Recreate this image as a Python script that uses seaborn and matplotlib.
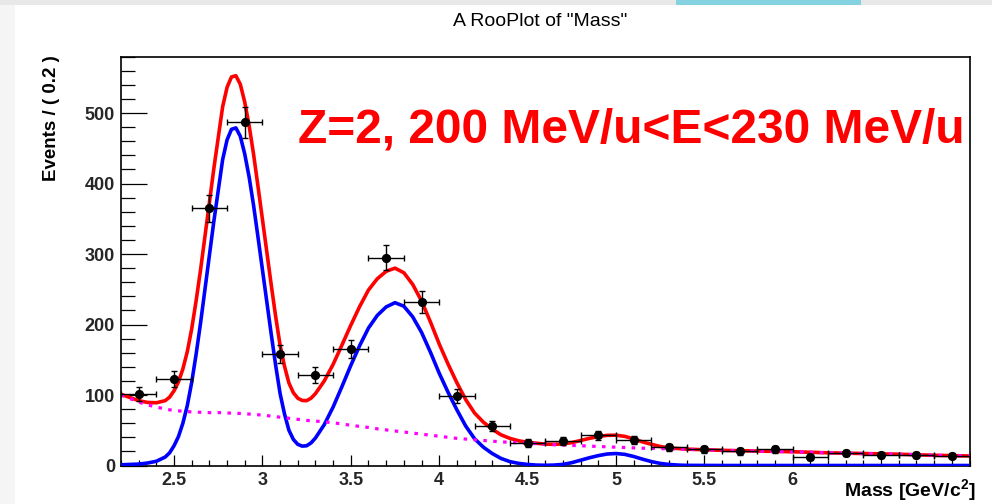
import numpy as np
import pandas as pd
import matplotlib
matplotlib.use("Agg")
import matplotlib.pyplot as plt
import seaborn as sns
from matplotlib.ticker import MultipleLocator, FixedLocator, FixedFormatter
from matplotlib.patches import Rectangle

# ---------------- data ----------------
bin_centers = [2.3, 2.5, 2.7, 2.9, 3.1, 3.3, 3.5, 3.7, 3.9, 4.1, 4.3, 4.5,
               4.7, 4.9, 5.1, 5.3, 5.5, 5.7, 5.9, 6.1, 6.3, 6.5, 6.7, 6.9]
counts = [101, 123, 365, 487, 158, 128, 165, 295, 232, 98, 56, 32,
          35, 43, 36, 26, 23, 20, 23, 12, 18, 15, 15, 14]
count_err = [10.0, 11.1, 19.1, 22.1, 12.6, 11.3, 12.8, 17.2, 15.2, 9.9, 7.5, 5.7,
             5.9, 6.6, 6.0, 5.1, 4.8, 4.5, 4.8, 3.5, 4.2, 3.9, 3.9, 3.7]
bin_half_width = [0.1] * 24

curve_x = [2.20, 2.25, 2.30, 2.35, 2.40,
           2.450, 2.475, 2.500, 2.525, 2.550, 2.575, 2.600, 2.625, 2.650, 2.675,
           2.700, 2.725, 2.750, 2.775, 2.800, 2.825, 2.850, 2.875, 2.900, 2.925,
           2.950, 2.975, 3.000, 3.025, 3.050, 3.075, 3.100, 3.125, 3.150, 3.175,
           3.200, 3.225, 3.250, 3.275, 3.300,
           3.35, 3.40, 3.45, 3.50, 3.55, 3.60, 3.65,
           3.70, 3.75, 3.80, 3.85, 3.90, 3.95, 4.00, 4.05, 4.10, 4.15,
           4.20, 4.25, 4.30, 4.35, 4.40, 4.45, 4.50, 4.55, 4.60, 4.65,
           4.70, 4.75, 4.80, 4.85, 4.90, 4.95, 5.00, 5.05, 5.10, 5.15,
           5.20, 5.25, 5.30, 5.35, 5.40, 5.60, 5.80, 6.00, 6.20, 6.40,
           6.60, 6.80, 7.00]
signal = [1, 1.5, 2, 3.5, 6,
          12, 18, 28, 41, 60, 85, 118, 158, 202, 250,
          298, 346, 390, 434, 462, 477, 479, 467, 442, 409,
          369, 324, 278, 232, 186, 142, 102, 73, 50, 37,
          30, 27.5, 28, 32, 39,
          58, 83, 112, 142, 170, 195, 213,
          225, 231, 226, 211, 189, 161, 131, 104, 79, 56,
          38, 26, 17, 10, 5.5, 3, 1.5, 0.6, 0.3, 0.6,
          1.6, 4, 7.5, 11, 14, 16.3, 17, 15.8, 12.8, 9,
          5.6, 3, 1.5, 0.6, 0.2, 0, 0, 0, 0, 0,
          0, 0, 0]
background = [100, 95, 90, 86, 83,
              80, 79, 78, 77.5, 77, 76.5, 76, 75.8, 75.5, 75.2,
              75, 75, 75, 75, 74.5, 74.3, 74, 73.8, 73.5, 73,
              72.5, 72, 71.5, 70.8, 70, 69.3, 68.5, 67.8, 67, 66.3,
              65.5, 64.8, 64, 63.5, 63,
              62, 60.5, 59, 57, 55.5, 54, 52,
              50.5, 49, 47.5, 46, 44.5, 43, 41.5, 40, 38.5, 37.5,
              36.5, 35.5, 34.5, 33.5, 33, 32, 31.5, 31, 30, 29.5,
              29, 28.5, 28, 27.5, 27, 26.5, 26, 25.5, 25, 24.5,
              24.5, 24, 23.5, 23.5, 23, 21.5, 20.5, 19.5, 18, 17,
              16, 14.5, 13.5]
total = [101, 96.5, 92, 89.5, 89,
         92, 97, 106, 118.5, 137, 161.5, 194, 233.8, 277.5, 325.2,
         373, 421, 465, 509, 536.5, 551.3, 553, 540.8, 515.5, 482,
         441.5, 396, 349.5, 302.8, 256, 211.3, 170.5, 140.8, 117, 103.3,
         95.5, 92.3, 92, 95.5, 102,
         120, 143.5, 171, 199, 225.5, 249, 265,
         275.5, 280, 273.5, 257, 233.5, 204, 172.5, 144, 117.5, 93.5,
         74.5, 61.5, 51.5, 43.5, 38.5, 35, 33, 31.6, 30.3, 30.1,
         30.6, 32.5, 35.5, 38.5, 41, 42.8, 43, 41.3, 37.8, 33.5,
         30.1, 27, 25, 24.1, 23.2, 21.5, 20.5, 19.5, 18, 17,
         16, 14.5, 13.5]

x_major = [2.5, 3.0, 3.5, 4.0, 4.5, 5.0, 5.5, 6.0, 6.5]
x_major_labels = ["2.5", "3", "3.5", "4", "4.5", "5", "5.5", "6", ""]
y_major = [0, 100, 200, 300, 400, 500]
y_major_labels = ["0", "100", "200", "300", "400", "500"]

curves = pd.DataFrame({"x": curve_x, "signal": signal,
                       "background": background, "total": total})
data = pd.DataFrame({"x": bin_centers, "n": counts})

# ---------------- style ----------------
sns.set_theme(style="white")
plt.rcParams["font.family"] = ["Liberation Sans", "DejaVu Sans"]
plt.rcParams["mathtext.fontset"] = "custom"
plt.rcParams["mathtext.rm"] = "Liberation Sans"
plt.rcParams["mathtext.bf"] = "Liberation Sans:bold"

W, H = 992, 504
fig = plt.figure(figsize=(W / 100, H / 100), dpi=100, facecolor="white")

# screenshot chrome
fig.patches.append(Rectangle((0, 0), 15 / W, 1, transform=fig.transFigure,
                             facecolor="#f5f5f5", edgecolor="none", zorder=-5))
fig.patches.append(Rectangle((0, 1 - 5 / H), 1, 5 / H, transform=fig.transFigure,
                             facecolor="#e8e8e8", edgecolor="none", zorder=-4))
fig.patches.append(Rectangle((676 / W, 1 - 5 / H), (861 - 676) / W, 5 / H,
                             transform=fig.transFigure,
                             facecolor="#84d1df", edgecolor="none", zorder=-3))

L, R, T, B = 121, 969.5, 56.7, 465.5
ax = fig.add_axes([L / W, 1 - B / H, (R - L) / W, (B - T) / H])
ax.set_facecolor("white")

sns.lineplot(data=curves, x="x", y="total", ax=ax, color="#ff0000",
             linewidth=2.6, sort=False, estimator=None, zorder=3)
sns.lineplot(data=curves, x="x", y="signal", ax=ax, color="#0000ff",
             linewidth=2.6, sort=False, estimator=None, zorder=4)
sns.lineplot(data=curves, x="x", y="background", ax=ax, color="#ff00ff",
             linewidth=2.3, sort=False, estimator=None, zorder=5)
lines = ax.get_lines()
for ln in lines[:2]:
    ln.set_solid_joinstyle("round")
    ln.set_solid_capstyle("butt")
lines[2].set_dashes([1.1, 2.0])
lines[2].set_dash_capstyle("butt")

ax.errorbar(bin_centers, counts, yerr=count_err, xerr=bin_half_width,
            fmt="none", ecolor="black", elinewidth=1.0, capsize=2.0,
            capthick=1.0, zorder=6)
sns.scatterplot(data=data, x="x", y="n", ax=ax, color="black", s=44,
                edgecolor="black", linewidth=0, zorder=7)

ax.set_xlim(2.2, 7.0)
ax.set_ylim(0, 580)

ax.xaxis.set_major_locator(FixedLocator(x_major))
ax.xaxis.set_major_formatter(FixedFormatter(x_major_labels))
ax.xaxis.set_minor_locator(MultipleLocator(0.1))
ax.yaxis.set_major_locator(FixedLocator(y_major))
ax.yaxis.set_major_formatter(FixedFormatter(y_major_labels))
ax.yaxis.set_minor_locator(MultipleLocator(20))

ax.tick_params(axis="x", which="major", direction="in", length=8, width=0.9,
               pad=4.5, labelsize=13, bottom=True, top=False, color="black")
ax.tick_params(axis="x", which="minor", direction="in", length=4.3, width=0.9,
               bottom=True, top=False, color="black")
ax.tick_params(axis="y", which="major", direction="in", length=18.5, width=0.9,
               pad=4.3, labelsize=13, left=True, right=False, color="black")
ax.tick_params(axis="y", which="minor", direction="in", length=10, width=0.9,
               left=True, right=False, color="black")
for lab in ax.get_xticklabels() + ax.get_yticklabels():
    lab.set_fontweight("bold")

for sp in ax.spines.values():
    sp.set_color("black")
    sp.set_linewidth(1.2)

ax.set_xlabel("")
ax.set_ylabel("")
if ax.get_legend() is not None:
    ax.get_legend().remove()

fig.text(540 / W, 1 - 22 / H, 'A RooPlot of "Mass"', ha="center", va="center",
         fontsize=14, color="black")
fig.text(52 / W, 1 - 55 / H, "Events / ( 0.2 )", rotation=90, ha="center",
         va="top", fontsize=13.5, fontweight="bold", color="black")
fig.text(976 / W, 1 - 491 / H, r"Mass [GeV/c$^{\mathbf{2}}$]", ha="right",
         va="center", fontsize=14, fontweight="bold", color="black")
fig.text(298 / W, 1 - 143 / H, "Z=2, 200 MeV/u<E<230 MeV/u", ha="left",
         va="baseline", fontsize=34.5, fontweight="bold", color="#ff0000")

fig.savefig("out.png", dpi=100, facecolor="white")
